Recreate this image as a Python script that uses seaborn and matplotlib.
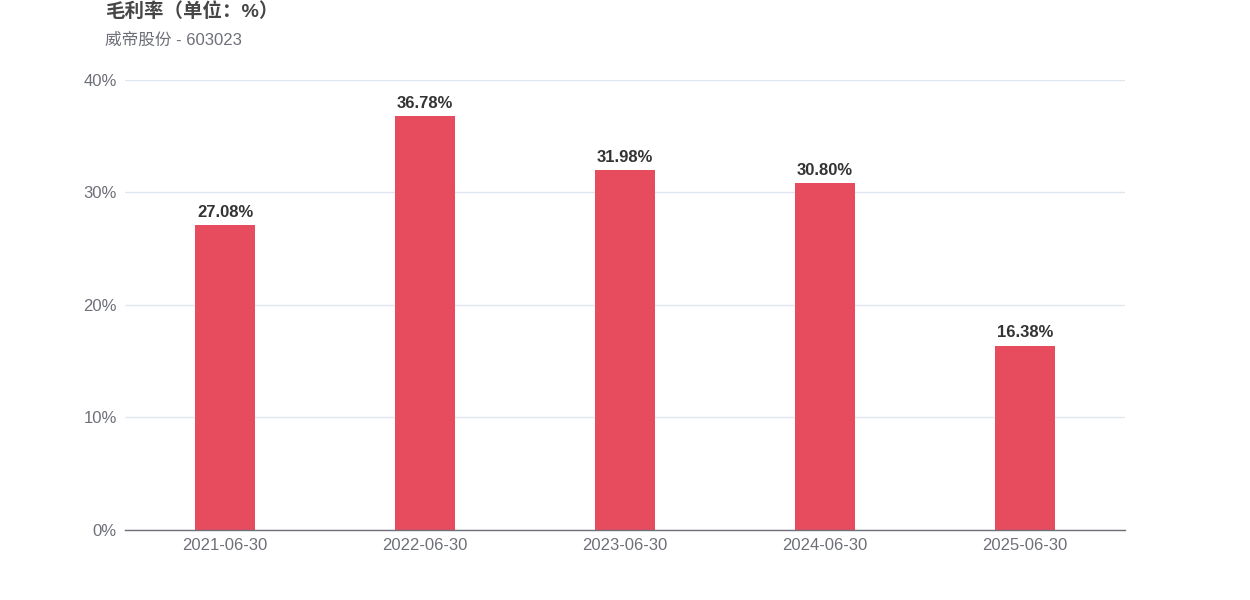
import pandas as pd
import matplotlib.pyplot as plt
import seaborn as sns
from matplotlib.ticker import FuncFormatter

# data
dates = ["2021-06-30", "2022-06-30", "2023-06-30", "2024-06-30", "2025-06-30"]
margin = [27.08, 36.78, 31.98, 30.80, 16.38]

df = pd.DataFrame({"date": dates, "margin": margin})

sns.set_style("white")
plt.rcParams['font.family'] = ['Liberation Sans', 'Noto Sans CJK SC', 'DejaVu Sans']

fig = plt.figure(figsize=(12.5, 6), dpi=100)
ax = fig.add_axes([0.1, 0.1167, 0.8, 0.75])

sns.barplot(data=df, x="date", y="margin", color="#E64B5E", width=0.3,
            saturation=1, linewidth=0, ax=ax)

ax.set_ylim(0, 40)
ax.set_xlim(-0.5, len(dates) - 0.5)
ax.set_yticks([0, 10, 20, 30, 40])
ax.yaxis.set_major_formatter(FuncFormatter(lambda v, p: f"{v:.0f}%"))
ax.grid(axis="y", color="#E0E6F1", linewidth=1)
ax.set_axisbelow(True)
ax.set_xlabel("")
ax.set_ylabel("")

for s in ["top", "right", "left"]:
    ax.spines[s].set_visible(False)
ax.spines["bottom"].set_color("#6E7079")
ax.spines["bottom"].set_linewidth(1)
ax.tick_params(axis="both", length=0, labelsize=12, colors="#6E7079")
ax.tick_params(axis="x", pad=6)
ax.tick_params(axis="y", pad=6)

# value labels on top of bars
for i, v in enumerate(margin):
    ax.text(i, v + 0.5, f"{v:.2f}%", ha="center", va="bottom",
            fontsize=12, fontweight="bold", color="#333333")

fig.text(105 / 1250, 1 - 12 / 600, "毛利率（单位：%）", fontsize=14, fontweight="bold",
         color="#464646", va="center", ha="left")
fig.text(105 / 1250, 1 - 40 / 600, "威帝股份 - 603023", fontsize=12,
         color="#6E7079", va="center", ha="left")

fig.savefig("out.png", dpi=100)
